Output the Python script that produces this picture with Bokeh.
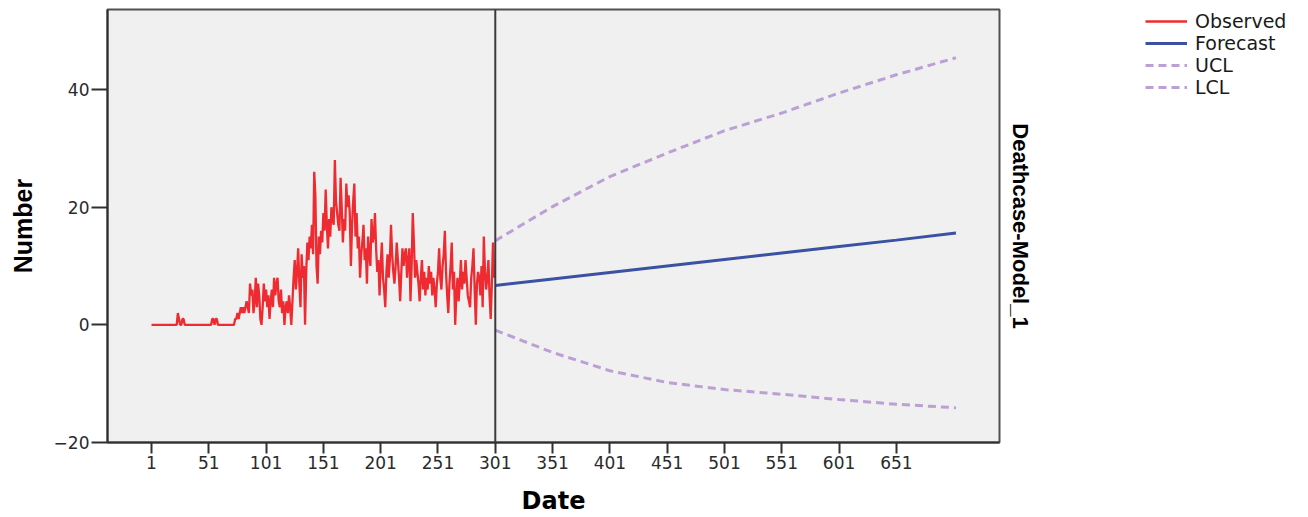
from bokeh.plotting import figure
from bokeh.layouts import row
from bokeh.models import Range1d, FixedTicker, LinearAxis, Span, Legend, LegendItem
from bokeh.embed import file_html
from bokeh.resources import INLINE

# ---- data ----
obs_start_day = 1
observed = [
    0, 0, 0, 0, 0, 0, 0, 0, 0, 0,
    0, 0, 0, 0, 0, 0, 0, 0, 0, 0,
    0, 0, 0, 2, 1, 0, 0, 1, 1, 0,
    0, 0, 0, 0, 0, 0, 0, 0, 0, 0,
    0, 0, 0, 0, 0, 0, 0, 0, 0, 0,
    0, 0, 0, 1, 1, 0, 1, 1, 0, 0,
    0, 0, 0, 0, 0, 0, 0, 0, 0, 0,
    0, 0, 0, 1, 1, 2, 1, 2, 3, 2,
    3, 2, 3, 4, 3, 2, 7, 5, 6, 2,
    4, 8, 3, 7, 5, 1, 0, 3, 7, 4,
    6, 3, 5, 1, 4, 6, 3, 8, 5, 7,
    8, 4, 3, 6, 2, 4, 0, 3, 4, 2,
    5, 3, 0, 4, 8, 11, 6, 9, 13, 7,
    3, 12, 8, 10, 0, 9, 14, 11, 15, 13,
    17, 12, 26, 22, 10, 7, 15, 12, 16, 14,
    19, 16, 23, 17, 13, 18, 15, 20, 18, 17,
    28, 21, 19, 17, 16, 25, 20, 14, 18, 16,
    24, 20, 22, 19, 10, 17, 21, 24, 15, 19,
    13, 15, 8, 12, 14, 17, 11, 13, 7, 15,
    12, 10, 18, 14, 15, 19, 13, 9, 11, 5,
    10, 14, 8, 6, 3, 9, 12, 8, 11, 17,
    12, 9, 7, 10, 14, 11, 8, 4, 9, 13,
    10, 12, 13, 8, 11, 13, 4, 10, 19, 14,
    8, 11, 9, 7, 4, 8, 11, 6, 9, 5,
    8, 6, 10, 7, 9, 5, 8, 6, 3, 7,
    9, 13, 8, 6, 10, 12, 16, 9, 5, 2,
    7, 10, 14, 6, 9, 0, 5, 8, 4, 7,
    11, 6, 9, 7, 11, 8, 5, 4, 3, 8,
    10, 13, 6, 0, 7, 9, 8, 5, 10, 3,
    15, 9, 6, 8, 11, 5, 1, 7, 14, 8,
]
obs_days = list(range(obs_start_day, obs_start_day + len(observed)))

fc_days = [301, 351, 401, 451, 501, 551, 601, 651, 703]
forecast = [6.7, 7.8, 8.9, 10.0, 11.1, 12.2, 13.3, 14.4, 15.6]
ucl = [14.3, 20.1, 25.2, 29.2, 33.0, 36.0, 39.4, 42.5, 45.4]
lcl = [-0.9, -4.7, -7.8, -9.8, -11.0, -11.8, -12.7, -13.5, -14.1]

x_ticks = [1, 51, 101, 151, 201, 251, 301, 351, 401, 451, 501, 551, 601, 651]
y_ticks = [-20, 0, 20, 40]
forecast_origin = 301
series_names = ["Observed", "Forecast", "UCL", "LCL"]

OBS_COLOR = "#ee2b31"
FC_COLOR = "#3b52a2"
CL_COLOR = "#bca0d5"

# ---- main figure ----
p = figure(width=1040, height=517, output_backend="svg", toolbar_location=None,
           x_range=Range1d(-37.4, 741), y_range=Range1d(-20, 53.6),
           min_border_left=107, min_border_right=41, min_border_top=9,
           min_border_bottom=75,
           background_fill_color="#f0f0f0", border_fill_color="white")
p.grid.visible = False
p.outline_line_color = "#505050"
p.outline_line_width = 2

tick_font = "DejaVu Sans"
for ax in (p.xaxis[0], p.yaxis[0]):
    ax.axis_line_color = "#303030"
    ax.axis_line_width = 2
    ax.major_tick_line_color = "#303030"
    ax.major_tick_line_width = 2
    ax.minor_tick_line_color = None
    ax.major_tick_in = 0
    ax.major_label_text_font = tick_font
    ax.major_label_text_font_size = "17px"
    ax.major_label_text_color = "#2a2a2a"
    ax.major_label_standoff = 2
    ax.axis_label_text_font_style = "bold"
    ax.axis_label_text_color = "black"

p.xaxis.ticker = FixedTicker(ticks=x_ticks)
p.yaxis.ticker = FixedTicker(ticks=y_ticks)
p.xaxis.major_tick_out = 11
p.yaxis.major_tick_out = 16
p.xaxis.axis_label = "Date"
p.xaxis.axis_label_text_font = "DejaVu Sans"
p.xaxis.axis_label_text_font_size = "24px"
p.xaxis.axis_label_standoff = 15
p.yaxis.axis_label = "Number"
p.yaxis.axis_label_text_font = "Liberation Sans"
p.yaxis.axis_label_text_font_size = "25px"
p.yaxis.axis_label_standoff = 14

right = LinearAxis(axis_label="Deathcase-Model_1", ticker=FixedTicker(ticks=[]),
                   axis_line_color=None, major_tick_line_color=None,
                   minor_tick_line_color=None,
                   axis_label_text_font="Liberation Sans",
                   axis_label_text_font_style="bold",
                   axis_label_text_font_size="22px",
                   axis_label_text_color="black",
                   axis_label_standoff=8)
p.add_layout(right, "right")

p.line(obs_days, observed, line_color=OBS_COLOR, line_width=2.3)
p.line(fc_days, forecast, line_color=FC_COLOR, line_width=3)
p.line(fc_days, ucl, line_color=CL_COLOR, line_width=3, line_dash="8 5")
p.line(fc_days, lcl, line_color=CL_COLOR, line_width=3, line_dash="8 5")

p.add_layout(Span(location=forecast_origin, dimension="height",
                  line_color="#3a3a3a", line_width=2))

# ---- legend panel (outside the plot area, as in the reference) ----
# The key renderers reuse the series, but this panel's ranges keep them out of view,
# so only the legend entries themselves are shown.
lg = figure(width=260, height=517, output_backend="svg", toolbar_location=None,
            x_range=Range1d(-2000, -1999), y_range=Range1d(-2000, -1999),
            x_axis_location=None, y_axis_location=None,
            min_border=0, outline_line_color=None,
            background_fill_color="white", border_fill_color="white")
lg.grid.visible = False
k_obs = lg.line(obs_days, observed, line_color=OBS_COLOR, line_width=2.3)
k_fc = lg.line(fc_days, forecast, line_color=FC_COLOR, line_width=3)
k_ucl = lg.line(fc_days, ucl, line_color=CL_COLOR, line_width=3, line_dash="8 5")
k_lcl = lg.line(fc_days, lcl, line_color=CL_COLOR, line_width=3, line_dash="8 5")

legend = Legend(items=[
    LegendItem(label=series_names[0], renderers=[k_obs]),
    LegendItem(label=series_names[1], renderers=[k_fc]),
    LegendItem(label=series_names[2], renderers=[k_ucl]),
    LegendItem(label=series_names[3], renderers=[k_lcl]),
], location=(105, 344), border_line_color=None, background_fill_alpha=0,
    label_text_font="DejaVu Sans", label_text_font_size="19px",
    label_text_color="#1a1a1a",
    glyph_width=42, glyph_height=20, label_height=20, spacing=0,
    padding=0, margin=0, label_standoff=8)
lg.add_layout(legend)

layout = row(p, lg, spacing=0)
open("out.html", "w").write(file_html(layout, INLINE))
